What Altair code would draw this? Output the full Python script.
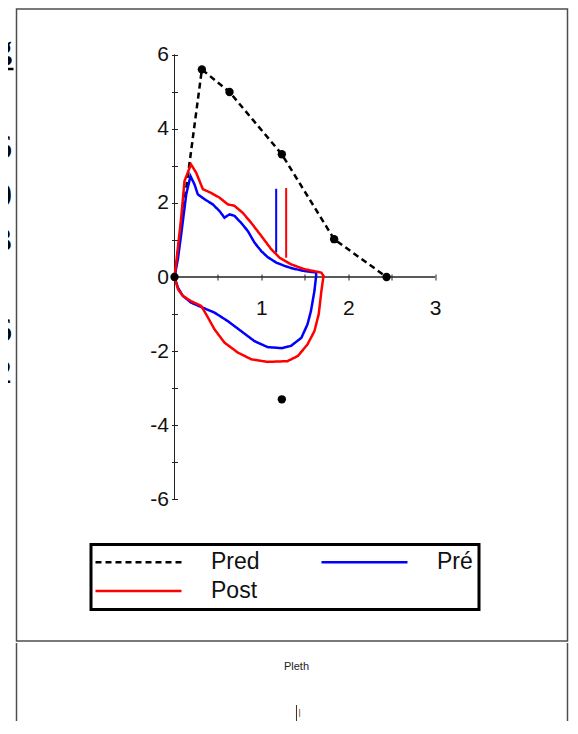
import altair as alt
import pandas as pd

# ---------------- data ----------------
series_names = ["Pred", "Post", "Pré"]          # legend is filled column by column
series_colors = ["#000000", "#ff0000", "#0000ff"]
series_dash = [[6, 4], [1, 0], [1, 0]]

pred_vol = [0.0, 0.315, 0.633, 1.235, 1.837, 2.44]
pred_flow = [0.0, 5.6, 4.99, 3.31, 1.02, 0.0]
pred_extra_vol = [1.235]
pred_extra_flow = [-3.3]

pre_vol = [0.0, 0.04, 0.077, 0.135, 0.184, 0.23, 0.268, 0.345, 0.44, 0.518,
           0.575, 0.633, 0.69, 0.767, 0.844, 0.92, 0.998, 1.07, 1.17, 1.266,
           1.36, 1.496, 1.63, 1.63, 1.61, 1.57, 1.53, 1.46, 1.34, 1.23,
           1.07, 0.92, 0.767, 0.613, 0.46, 0.307, 0.19, 0.096, 0.04, 0.0]
pre_flow = [0.0, 0.5, 1.15, 2.23, 2.72, 2.50, 2.23, 2.10, 1.96, 1.78,
            1.60, 1.69, 1.65, 1.46, 1.24, 0.93, 0.70, 0.54, 0.39, 0.30,
            0.23, 0.16, 0.12, 0.03, -0.38, -0.92, -1.28, -1.64, -1.86, -1.92,
            -1.89, -1.73, -1.46, -1.19, -0.96, -0.81, -0.69, -0.51, -0.29, 0.0]

post_vol = [0.0, 0.03, 0.077, 0.115, 0.19, 0.25, 0.326, 0.42, 0.518, 0.613,
            0.69, 0.786, 0.883, 0.998, 1.113, 1.21, 1.343, 1.496, 1.688, 1.715,
            1.69, 1.66, 1.61, 1.53, 1.42, 1.30, 1.07, 0.883, 0.73, 0.575,
            0.46, 0.365, 0.307, 0.19, 0.096, 0.04, 0.0]
post_flow = [0.0, 0.6, 1.60, 2.59, 3.04, 2.81, 2.37, 2.27, 2.14, 1.96,
             1.92, 1.73, 1.46, 1.11, 0.75, 0.52, 0.34, 0.21, 0.12, 0.03,
             -0.38, -1.0, -1.46, -1.82, -2.13, -2.27, -2.29, -2.22, -2.04, -1.77,
             -1.41, -1.01, -0.78, -0.65, -0.51, -0.33, 0.0]

marker_series = ["Pré", "Post"]
marker_vol = [1.17, 1.285]
marker_top = [2.38, 2.40]
marker_bottom = [0.66, 0.52]

x_ticks = [0.5, 1, 1.5, 2, 2.5, 3]
y_ticks = [-6, -5, -4, -3, -2, -1, 0, 1, 2, 3, 4, 5, 6]

side_text = ["g", "6", "0", "3", "6", "2"]
side_text_row = [50, 149, 197, 242, 332, 374]
side_text_weight = ["bold", "normal", "normal", "normal", "normal", "normal"]

bottom_title = ["Pleth"]
bottom_tick_label = ["l"]
bottom_domain = [-1.0, 0.968]

# ---------------- tables ----------------
lines_rows = []
for name, xs, ys in [("Pred", pred_vol, pred_flow), ("Pré", pre_vol, pre_flow), ("Post", post_vol, post_flow)]:
    for i, (vx, vy) in enumerate(zip(xs, ys)):
        lines_rows.append({"series": name, "seq": i, "vol": vx, "flow": vy})
lines_df = pd.DataFrame(lines_rows)

points_df = pd.DataFrame({"vol": pred_vol + pred_extra_vol, "flow": pred_flow + pred_extra_flow})
markers_df = pd.DataFrame({"series": marker_series, "vol": marker_vol,
                           "top": marker_top, "bottom": marker_bottom})
xaxis_df = pd.DataFrame({"x": [0.0], "x2": [max(x_ticks)], "y": [0.0]})
yaxis_df = pd.DataFrame({"x": [0.0], "y": [min(y_ticks)], "y2": [max(y_ticks)]})

# ---------------- layout (pixels) ----------------
W_TOP, H_TOP = 551, 632
X0_PX, Y0_PX = 158, 268          # origin position inside the view
PX_X, PX_Y = 86.9, 37.07         # pixels per unit
FRAME = "#4d4d4d"
SIDE_FONT = 34
SIDE_RIGHT = 7.5                 # right edge of the cut-off text inside the 9px strip
x_scale = alt.Scale(domain=[-X0_PX / PX_X, (W_TOP - X0_PX) / PX_X], nice=False, zero=False)
y_scale = alt.Scale(domain=[-(H_TOP - Y0_PX) / PX_Y, Y0_PX / PX_Y], nice=False, zero=False)

axis_common = dict(domain=False, grid=False, tickColor="#222222", tickWidth=1,
                   labelFont="Liberation Sans", labelFontSize=21, labelColor="#111111",
                   title=None, labelOverlap=False, labelFlush=False)

x_axis_bottom = alt.Axis(orient="bottom", offset=Y0_PX - H_TOP, values=x_ticks, tickSize=3,
                         labelPadding=17,
                         labelExpr="datum.value % 1 === 0 ? '' + datum.value : ''", **axis_common)
x_axis_top = alt.Axis(orient="top", offset=-Y0_PX, values=x_ticks, tickSize=3, labels=False,
                      **axis_common)
y_axis_left = alt.Axis(orient="left", offset=-X0_PX, values=y_ticks, tickSize=3, labelPadding=3,
                       labelExpr="datum.value % 2 === 0 ? '' + datum.value : ''", **axis_common)
y_axis_right = alt.Axis(orient="right", offset=X0_PX - W_TOP, values=y_ticks, tickSize=3,
                        labels=False, **axis_common)

axis_x_layer = alt.Chart(xaxis_df).mark_rule(color="#222222", strokeWidth=1).encode(
    x=alt.X("x:Q", scale=x_scale, axis=x_axis_bottom), x2="x2:Q",
    y=alt.Y("y:Q", scale=y_scale, axis=None))
axis_x_layer2 = alt.Chart(xaxis_df).mark_rule(color="#222222", strokeWidth=1).encode(
    x=alt.X("x:Q", scale=x_scale, axis=x_axis_top), x2="x2:Q",
    y=alt.Y("y:Q", scale=y_scale, axis=None))
axis_y_layer = alt.Chart(yaxis_df).mark_rule(color="#222222", strokeWidth=1).encode(
    x=alt.X("x:Q", scale=x_scale, axis=None),
    y=alt.Y("y:Q", scale=y_scale, axis=y_axis_left), y2="y2:Q")
axis_y_layer2 = alt.Chart(yaxis_df).mark_rule(color="#222222", strokeWidth=1).encode(
    x=alt.X("x:Q", scale=x_scale, axis=None),
    y=alt.Y("y:Q", scale=y_scale, axis=y_axis_right), y2="y2:Q")

# legend position is measured from the left edge of the whole (concatenated) chart
legend = alt.Legend(title=None, orient="none", legendX=86.5, legendY=535.5, columns=2,
                    symbolType="M-1,0H16.2", symbolSize=100, symbolStrokeWidth=2.5, symbolOffset=-8,
                    labelFont="Liberation Sans", labelFontSize=23, labelColor="#111111",
                    labelOffset=99, columnPadding=56, rowPadding=5, padding=6,
                    strokeColor="#000000", fillColor="#ffffff",
                    labelExpr="datum.label === 'Pré' ? 'Pré\u00a0\u00a0\u00a0\u00a0' : datum.label")

lines_layer = alt.Chart(lines_df).mark_line(strokeWidth=2.5).encode(
    x=alt.X("vol:Q", scale=x_scale, axis=None),
    y=alt.Y("flow:Q", scale=y_scale, axis=None),
    color=alt.Color("series:N", scale=alt.Scale(domain=series_names, range=series_colors), legend=legend),
    strokeDash=alt.StrokeDash("series:N", scale=alt.Scale(domain=series_names, range=series_dash),
                              legend=legend),
    detail="series:N",
    order=alt.Order("seq:Q"),
)

points_layer = alt.Chart(points_df).mark_circle(size=70, color="#000000", opacity=1).encode(
    x=alt.X("vol:Q", scale=x_scale, axis=None),
    y=alt.Y("flow:Q", scale=y_scale, axis=None))

marker_layers = []
for name, col in [("Pré", "#0000ff"), ("Post", "#ff0000")]:
    marker_layers.append(
        alt.Chart(markers_df).transform_filter(alt.datum.series == name)
        .mark_rule(color=col, strokeWidth=2).encode(
            x=alt.X("vol:Q", scale=x_scale, axis=None),
            y=alt.Y("top:Q", scale=y_scale, axis=None), y2="bottom:Q"))

top = alt.layer(axis_x_layer, axis_x_layer2, axis_y_layer, axis_y_layer2,
                *marker_layers, lines_layer, points_layer).properties(width=W_TOP, height=H_TOP)

# ---------------- bottom strip ("Pleth"), open at the bottom ----------------
H_BOT = 78
bx = alt.Scale(domain=bottom_domain, nice=False, zero=False)
pleth_sides = alt.Chart(pd.DataFrame({"x": bottom_domain})).mark_rule(color=FRAME, strokeWidth=1.5).encode(
    x=alt.X("x:Q", scale=bx, axis=None), y=alt.value(0), y2=alt.value(H_BOT))
pleth_title = alt.Chart(pd.DataFrame({"t": bottom_title, "x": [0.0]})).mark_text(
    font="Liberation Sans", fontSize=11, color="#222222", baseline="middle").encode(
    x=alt.X("x:Q", scale=bx, axis=None), y=alt.value(24), text="t:N")
pleth_axis = alt.Chart(pd.DataFrame({"x": [0.0]})).mark_rule(color="#333333", strokeWidth=1).encode(
    x=alt.X("x:Q", scale=bx, axis=None), y=alt.value(62), y2=alt.value(H_BOT))
pleth_lab = alt.Chart(pd.DataFrame({"t": bottom_tick_label, "x": [0.0]})).mark_text(
    font="Liberation Sans", fontSize=10, color="#8a5a3a", align="left", baseline="middle", dx=2).encode(
    x=alt.X("x:Q", scale=bx, axis=None), y=alt.value(71), text="t:N")
bottom = alt.layer(pleth_sides, pleth_title, pleth_axis, pleth_lab).properties(
    width=W_TOP, height=H_BOT, view=alt.ViewBackground(strokeOpacity=0))

# ---------------- text cut off at the left edge of the page ----------------
side_df = pd.DataFrame({"t": side_text, "row": side_text_row, "w": side_text_weight, "x": [1.0] * len(side_text)})
sx = alt.Scale(domain=[0, 1], nice=False, zero=False)
sy = alt.Scale(domain=[0, H_TOP], reverse=True, nice=False, zero=False)
side_bold = alt.Chart(side_df).transform_filter(alt.datum.w == "bold").mark_text(
    font="Liberation Serif", fontSize=SIDE_FONT, fontWeight="bold", color="#000000", align="right",
    baseline="alphabetic", dx=SIDE_RIGHT - 9).encode(
    x=alt.X("x:Q", scale=sx, axis=None), y=alt.Y("row:Q", scale=sy, axis=None), text="t:N")
side_norm = alt.Chart(side_df).transform_filter(alt.datum.w == "normal").mark_text(
    font="Liberation Serif", fontSize=SIDE_FONT, color="#000000", align="right",
    baseline="alphabetic", dx=SIDE_RIGHT - 9).encode(
    x=alt.X("x:Q", scale=sx, axis=None), y=alt.Y("row:Q", scale=sy, axis=None), text="t:N")
underline = alt.Chart(pd.DataFrame({"x": [0.0], "x2": [1.0], "row": [side_text_row[0] + 10]})).mark_rule(
    color="#000000", strokeWidth=2.5).encode(
    x=alt.X("x:Q", scale=sx, axis=None), x2="x2:Q", y=alt.Y("row:Q", scale=sy, axis=None))
left = alt.layer(side_bold, side_norm, underline).properties(
    width=9, height=H_TOP, view=alt.ViewBackground(strokeOpacity=0))

# the cut-off glyphs stick out to the left of the 9px strip; a negative left padding
# pushes that overhang off the page
overhang = 13.5
chart = alt.hconcat(left, alt.vconcat(top, bottom, spacing=0), spacing=0,
                    padding={"left": -overhang, "top": 0, "right": 0, "bottom": 0}).configure_view(
    stroke=FRAME, strokeWidth=1.5).configure_legend(strokeWidth=3)

chart.save("out.html", embed_options={"renderer": "svg", "actions": False})
